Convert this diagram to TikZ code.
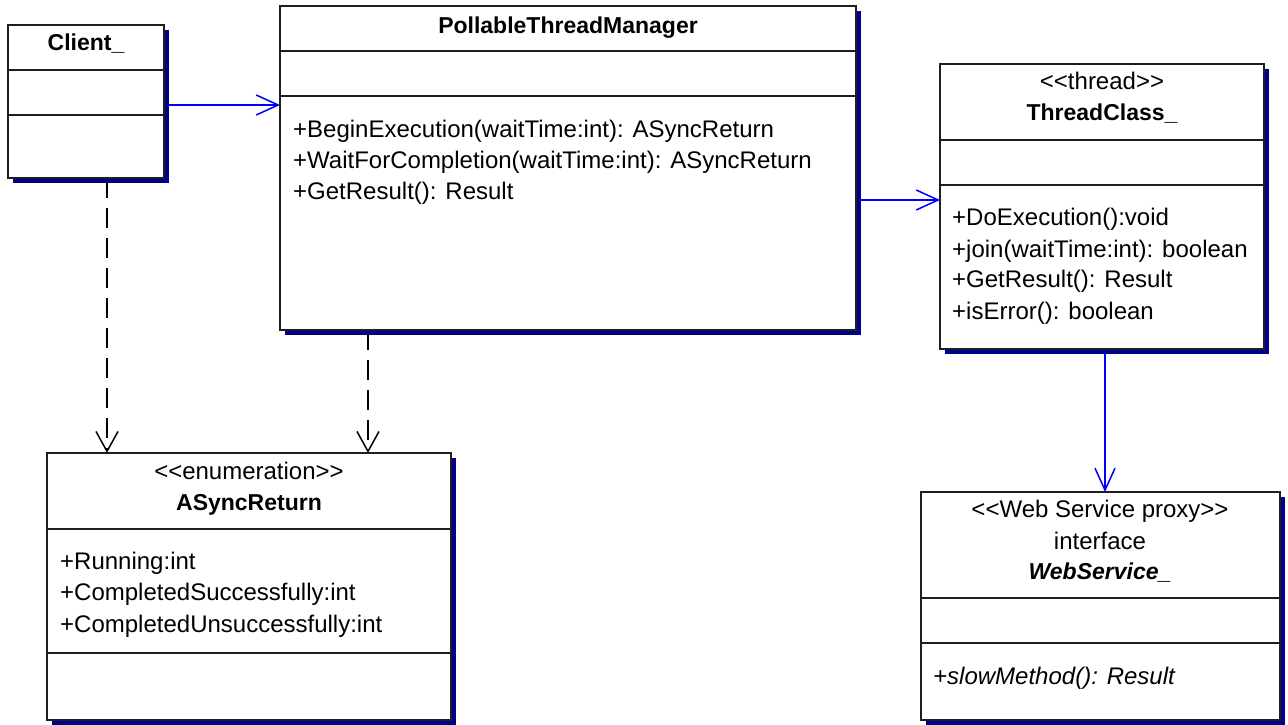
\documentclass[tikz,border=0pt]{standalone}
\usepackage{fontspec}
\setmainfont{Liberation Sans}
\usetikzlibrary{arrows.meta,shadows,backgrounds}
\definecolor{shadowblue}{RGB}{0,0,140}
\definecolor{edgegray}{RGB}{30,30,30}
\definecolor{linkblue}{RGB}{0,0,255}
\begin{document}
\begin{tikzpicture}[x=1pt,y=-1pt,
  umlbox/.style={draw=edgegray, line width=1.5pt, fill=white, inner sep=0pt, outer sep=0pt,
    anchor=north west,
    drop shadow={shadow xshift=5pt, shadow yshift=-5pt, fill=shadowblue, opacity=1}},
  umlline/.style={draw=edgegray, line width=1.5pt},
  txt/.style={font=\fontsize{24}{28}\selectfont, inner sep=0pt, anchor=mid, yshift=-5pt},
  lft/.style={txt, anchor=mid west},
  ttl/.style={txt, font=\fontsize{23}{27}\selectfont\bfseries},
  assoc/.style={draw=linkblue, line width=1.5pt, -{Straight Barb[length=22pt, width=20pt]}},
  depend/.style={draw=black, line width=1.5pt, dash pattern=on 20pt off 10pt,
    -{Straight Barb[length=20pt, width=22pt]}}
]
\useasboundingbox (0,0) rectangle (1288,725);

% class boxes
\node[umlbox, minimum width=156pt, minimum height=153pt] (client) at (8,25) {};
\node[umlbox, minimum width=576pt, minimum height=324pt] (ptm) at (280,6) {};
\node[umlbox, minimum width=324pt, minimum height=285pt] (tc) at (940,64) {};
\node[umlbox, minimum width=404pt, minimum height=267pt] (ar) at (47,453) {};
\node[umlbox, minimum width=359pt, minimum height=228pt] (ws) at (921,492) {};

% compartment lines
\draw[umlline] (client.west |- 0,70) -- (client.east |- 0,70);
\draw[umlline] (client.west |- 0,115) -- (client.east |- 0,115);
\draw[umlline] (ptm.west |- 0,51) -- (ptm.east |- 0,51);
\draw[umlline] (ptm.west |- 0,96) -- (ptm.east |- 0,96);
\draw[umlline] (tc.west |- 0,140) -- (tc.east |- 0,140);
\draw[umlline] (tc.west |- 0,185) -- (tc.east |- 0,185);
\draw[umlline] (ar.west |- 0,529) -- (ar.east |- 0,529);
\draw[umlline] (ar.west |- 0,653) -- (ar.east |- 0,653);
\draw[umlline] (ws.west |- 0,598) -- (ws.east |- 0,598);
\draw[umlline] (ws.west |- 0,643) -- (ws.east |- 0,643);

% Client_
\node[ttl] (clientname) at (86,43) {Client\_};

% PollableThreadManager
\node[ttl] (ptmname) at (568,26) {PollableThreadManager};
\node[lft] (ptm1) at (293,130) {+BeginExecution(waitTime:int): ASyncReturn};
\node[lft] (ptm2) at (293,161) {+WaitForCompletion(waitTime:int): ASyncReturn};
\node[lft] (ptm3) at (293,192) {+GetResult(): Result};

% ThreadClass_
\node[txt] (tcst) at (1102,82) {{<}{<}thread{>}{>}};
\node[ttl] (tcname) at (1102,113) {ThreadClass\_};
\node[lft] (tc1) at (952,218) {+DoExecution():void};
\node[lft] (tc2) at (952,250) {+join(waitTime:int): boolean};
\node[lft] (tc3) at (952,280) {+GetResult(): Result};
\node[lft] (tc4) at (952,312) {+isError(): boolean};

% AsyncReturn
\node[txt] (arst) at (249,472) {{<}{<}enumeration{>}{>}};
\node[ttl] (arname) at (249,503) {ASyncReturn};
\node[lft] (ar1) at (60,562) {+Running:int};
\node[lft] (ar2) at (60,593) {+CompletedSuccessfully:int};
\node[lft] (ar3) at (60,625) {+CompletedUnsuccessfully:int};

% WebService_
\node[txt] (wsst) at (1100,510) {{<}{<}Web Service proxy{>}{>}};
\node[txt] (wsif) at (1100,542) {interface};
\node[txt, font=\fontsize{23}{27}\selectfont\bfseries\itshape] (wsname) at (1100,572) {WebService\_};
\node[lft, font=\fontsize{24}{28}\selectfont\itshape] (ws1) at (933,677) {+slowMethod(): Result};

% connectors
\begin{scope}[on background layer]
\fill[white] (0,0) rectangle (1288,725);
\draw[assoc] (client.east |- 0,105) -- (ptm.west |- 0,105);
\draw[assoc] (ptm.east |- 0,200) -- (tc.west |- 0,200);
\draw[assoc] (tc.south -| 1105,0) -- (ws.north -| 1105,0);
\draw[depend] (client.south -| 107,0) -- (ar.north -| 107,0);
\draw[depend] (ptm.south -| 368,0) -- (ar.north -| 368,0);
\end{scope}
\end{tikzpicture}
\end{document}
